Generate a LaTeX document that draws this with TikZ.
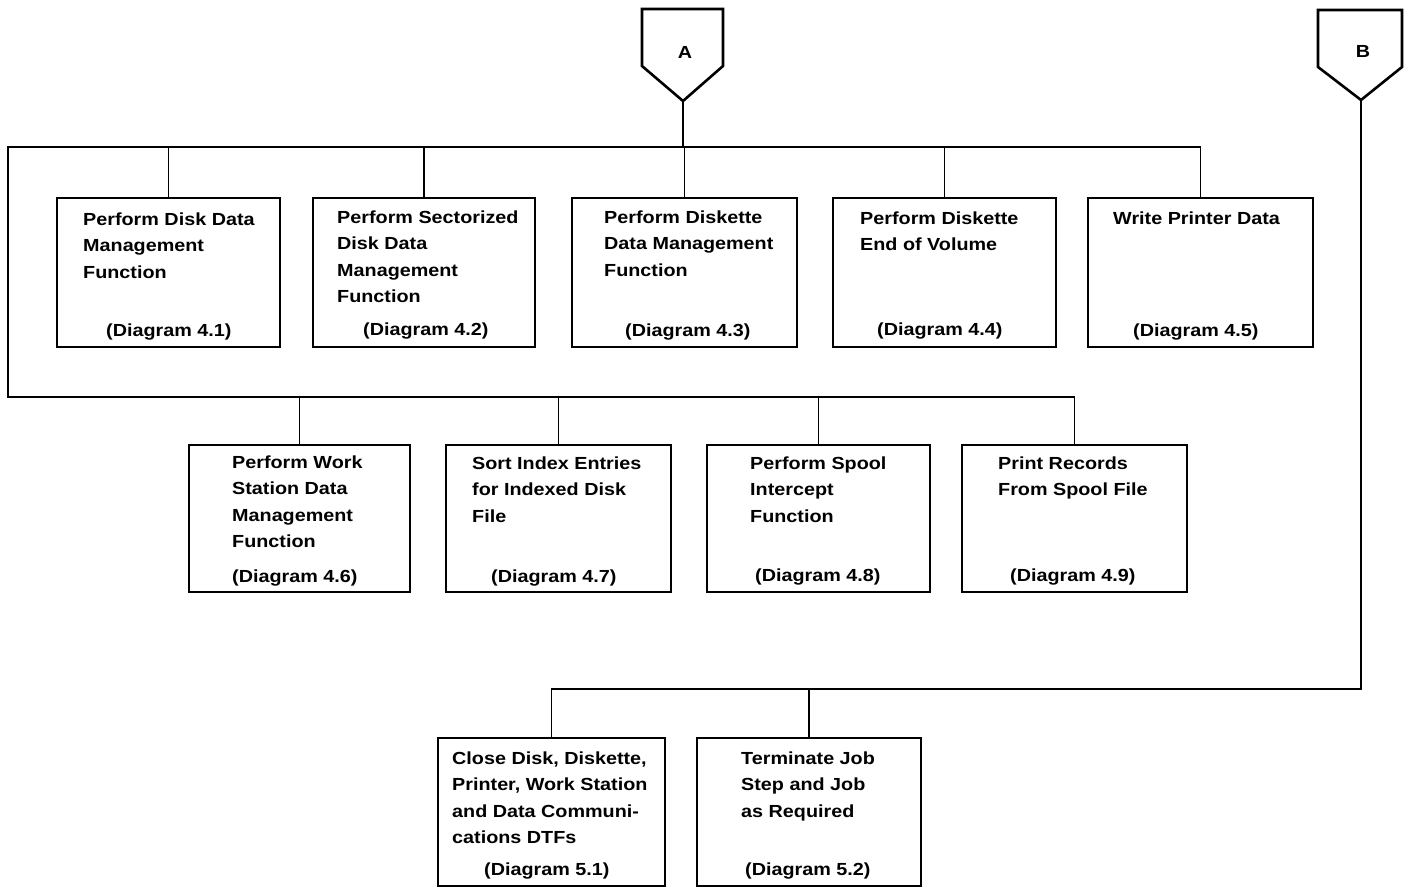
\documentclass[tikz,border=0pt]{standalone}
\usepackage{fontspec}
\setmainfont{Liberation Sans}[FakeStretch=1.13]
\usetikzlibrary{calc}
% lines of a box text, baseline at the first line
\newcommand{\boxlines}[1]{\begin{tabular}[t]{@{}l@{}}#1\end{tabular}}
\begin{document}
\begin{tikzpicture}[x=1pt,y=-1pt,
  procbox/.style={draw, line width=2.6pt, inner sep=0pt, outer sep=0pt, anchor=north west},
  boxtext/.style={inner sep=0pt, anchor=base west,
    font=\fontsize{17.5}{26.5}\selectfont\bfseries},
  link/.style={line width=1.8pt},
  offpage/.style={inner sep=0pt, outer sep=0pt},
  offline/.style={line width=2.6pt, line join=miter}]
\useasboundingbox (0,0) rectangle (1412,888);

% off-page connectors A and B
\node[offpage, minimum width=81pt, minimum height=57pt] (fA) at (682.5,37.5) {};
\coordinate (tipA) at (683,101);
\draw[offline] (fA.north west) -- (fA.north east) -- (fA.south east) -- (tipA) -- (fA.south west) -- cycle;
\node[boxtext, anchor=center] (A) at (685,52) {A};

\node[offpage, minimum width=84pt, minimum height=57pt] (fB) at (1360,38.5) {};
\coordinate (tipB) at (1361,100);
\draw[offline] (fB.north west) -- (fB.north east) -- (fB.south east) -- (tipB) -- (fB.south west) -- cycle;
\node[boxtext, anchor=center] (B) at (1363,51) {B};

% first row
\node[procbox, minimum width=223pt, minimum height=149pt] (b1) at (57,198) {};
\node[procbox, minimum width=222pt, minimum height=149pt] (b2) at (313,198) {};
\node[procbox, minimum width=225pt, minimum height=149pt] (b3) at (572,198) {};
\node[procbox, minimum width=223pt, minimum height=149pt] (b4) at (833,198) {};
\node[procbox, minimum width=225pt, minimum height=149pt] (b5) at (1088,198) {};

\node[boxtext] (t1) at (83,225) {\boxlines{Perform Disk Data\\Management\\Function}};
\node[boxtext] (d1) at (106,336) {(Diagram 4.1)};
\node[boxtext] (t2) at (337,223) {\boxlines{Perform Sectorized\\Disk Data\\Management\\Function}};
\node[boxtext] (d2) at (363,335) {(Diagram 4.2)};
\node[boxtext] (t3) at (604,223) {\boxlines{Perform Diskette\\Data Management\\Function}};
\node[boxtext] (d3) at (625,336) {(Diagram 4.3)};
\node[boxtext] (t4) at (860,224) {\boxlines{Perform Diskette\\End of Volume}};
\node[boxtext] (d4) at (877,335) {(Diagram 4.4)};
\node[boxtext] (t5) at (1113,224) {Write Printer Data};
\node[boxtext] (d5) at (1133,336) {(Diagram 4.5)};

% second row
\node[procbox, minimum width=221pt, minimum height=147pt] (b6) at (189,445) {};
\node[procbox, minimum width=225pt, minimum height=147pt] (b7) at (446,445) {};
\node[procbox, minimum width=223pt, minimum height=147pt] (b8) at (707,445) {};
\node[procbox, minimum width=225pt, minimum height=147pt] (b9) at (962,445) {};

\node[boxtext] (t6) at (232,468) {\boxlines{Perform Work\\Station Data\\Management\\Function}};
\node[boxtext] (d6) at (232,582) {(Diagram 4.6)};
\node[boxtext] (t7) at (472,469) {\boxlines{Sort Index Entries\\for Indexed Disk\\File}};
\node[boxtext] (d7) at (491,582) {(Diagram 4.7)};
\node[boxtext] (t8) at (750,469) {\boxlines{Perform Spool\\Intercept\\Function}};
\node[boxtext] (d8) at (755,581) {(Diagram 4.8)};
\node[boxtext] (t9) at (998,469) {\boxlines{Print Records\\From Spool File}};
\node[boxtext] (d9) at (1010,581) {(Diagram 4.9)};

% third row
\node[procbox, minimum width=227pt, minimum height=148pt] (b10) at (438,738) {};
\node[procbox, minimum width=224pt, minimum height=148pt] (b11) at (697,738) {};

\node[boxtext] (t10) at (452,764) {\boxlines{Close Disk, Diskette,\\Printer, Work Station\\and Data Communi-\\cations DTFs}};
\node[boxtext] (d10) at (484,875) {(Diagram 5.1)};
\node[boxtext] (t11) at (741,764) {\boxlines{Terminate Job\\Step and Job\\as Required}};
\node[boxtext] (d11) at (745,875) {(Diagram 5.2)};

% bus lines
\coordinate (busTL) at (8,147);
\coordinate (busBL) at (8,397);
\coordinate (busB) at (551,689);

\draw[link] (b5.north) |- (busTL) -- (busBL) -| (b9.north);
\draw[link] (tipA) -- (tipA |- busTL);
\foreach \b in {b1,b2,b3,b4}
  \draw[link] (\b.north) -- (\b.north |- busTL);
\foreach \b in {b6,b7,b8}
  \draw[link] (\b.north) -- (\b.north |- busBL);

\draw[link] (tipB) |- (busB) -| (b10.north);
\draw[link] (b11.north) -- (b11.north |- busB);
\end{tikzpicture}
\end{document}
